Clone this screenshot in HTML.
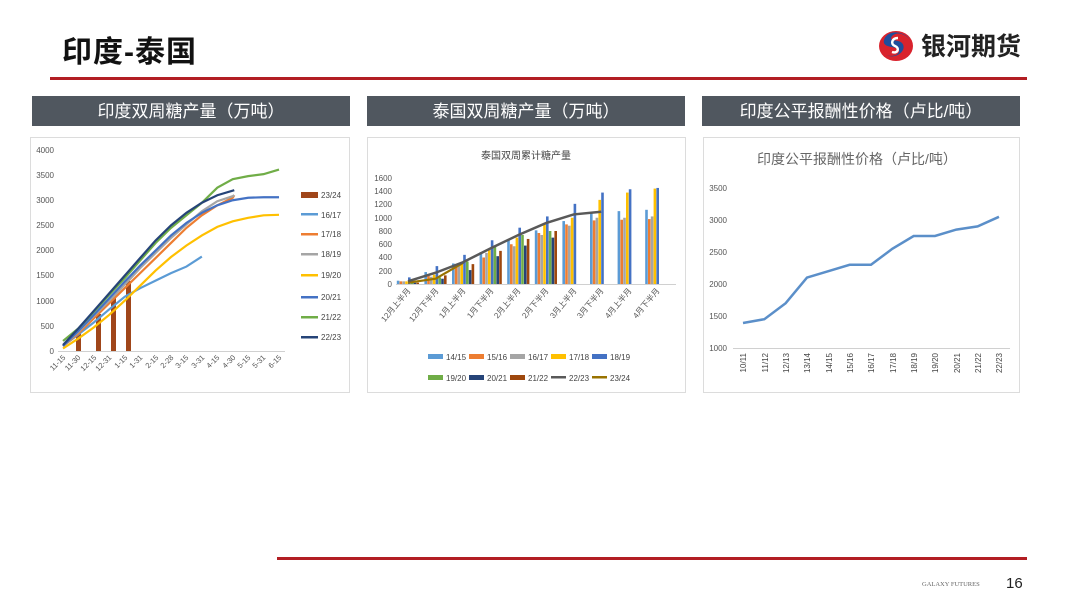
<!DOCTYPE html>
<html><head><meta charset="utf-8"><style>
body{margin:0;background:#fff;}
svg{display:block;font-family:"Liberation Sans","Noto Sans CJK SC",sans-serif;}
</style></head><body>
<svg width="1080" height="608" viewBox="0 0 1080 608">
<text x="62" y="62" font-size="30" font-weight="bold" fill="#111" letter-spacing="1">印度-泰国</text>
<!-- logo -->
<g transform="translate(896,46)">
<ellipse cx="0" cy="0" rx="17" ry="15" fill="#d9232d"/>
<path d="M-10,9 C0,14 12,4 6,-3 C2,-7 -8,-4 -4,-10 C2,-16 12,-10 14,-6 C10,-14 -8,-18 -12,-6 C-14,2 -2,0 2,3 C6,7 -2,12 -10,9Z" fill="#1f4e9c"/>
<path d="M-4,6 C2,8 4,2 -1,0 C-6,-2 -4,-8 2,-8" stroke="#fff" stroke-width="2.5" fill="none"/>
</g>
<text x="921" y="55" font-size="25" font-weight="bold" fill="#222">银河期货</text>
<rect x="50" y="77" width="977" height="3" fill="#b21e23"/>
<!-- header bars -->
<rect x="32" y="96" width="318" height="30" fill="#50575f"/>
<text x="191" y="117" font-size="17" fill="#fff" text-anchor="middle">印度双周糖产量（万吨）</text>
<rect x="367" y="96" width="318" height="30" fill="#50575f"/>
<text x="526" y="117" font-size="17" fill="#fff" text-anchor="middle">泰国双周糖产量（万吨）</text>
<rect x="702" y="96" width="318" height="30" fill="#50575f"/>
<text x="861" y="117" font-size="17" fill="#fff" text-anchor="middle">印度公平报酬性价格（卢比/吨）</text>
<!-- chart boxes -->
<rect x="30.5" y="137.5" width="319" height="255" fill="#fff" stroke="#dcdcdc"/>
<rect x="367.5" y="137.5" width="318" height="255" fill="#fff" stroke="#dcdcdc"/>
<rect x="703.5" y="137.5" width="316" height="255" fill="#fff" stroke="#dcdcdc"/>

<!-- Chart 1 -->
<g font-size="8" fill="#555" text-anchor="end">
<text x="54" y="153">4000</text><text x="54" y="178">3500</text><text x="54" y="203">3000</text><text x="54" y="228">2500</text><text x="54" y="253">2000</text><text x="54" y="278">1500</text><text x="54" y="304">1000</text><text x="54" y="329">500</text><text x="54" y="354">0</text>
</g>
<line x1="58" y1="351.5" x2="285" y2="351.5" stroke="#d0d0d0"/>
<g fill="#a0461a">
<rect x="76" y="332" width="5" height="19"/><rect x="96" y="314" width="5" height="37"/><rect x="111" y="297" width="5" height="54"/><rect x="126" y="281" width="5" height="70"/>
</g>
<g transform="translate(63,351) scale(15.43,-0.05025)" fill="none" stroke-width="2.2">
<polyline vector-effect="non-scaling-stroke" stroke="#5b9bd5" points="0,100 1,330 2,570 3,830 4,1080 5,1250 6,1400 7,1550 8,1680 9,1880"/>
<polyline vector-effect="non-scaling-stroke" stroke="#ffc000" points="0,50 1,250 2,470 3,720 4,1000 5,1300 6,1600 7,1870 8,2100 9,2300 10,2470 11,2580 12,2650 13,2700 14,2710"/>
<polyline vector-effect="non-scaling-stroke" stroke="#ed7d31" points="0,100 1,350 2,650 3,950 4,1250 5,1550 6,1850 7,2150 8,2450 9,2700 10,2900 11,3050 11.1,3100"/>
<polyline vector-effect="non-scaling-stroke" stroke="#a5a5a5" points="0,100 1,380 2,700 3,1000 4,1320 5,1650 6,1950 7,2250 8,2520 9,2780 10,2980 11,3080 11.1,3100"/>
<polyline vector-effect="non-scaling-stroke" stroke="#4472c4" points="0,100 1,400 2,720 3,1050 4,1380 5,1700 6,2000 7,2300 8,2550 9,2750 10,2900 11,3000 12,3050 13,3060 14,3060"/>
<polyline vector-effect="non-scaling-stroke" stroke="#70ad47" points="0,200 1,450 2,780 3,1120 4,1450 5,1800 6,2150 7,2450 8,2700 9,2950 10,3250 11,3420 12,3480 13,3520 14,3610"/>
<polyline vector-effect="non-scaling-stroke" stroke="#264478" points="0,120 1,450 2,800 3,1150 4,1500 5,1850 6,2200 7,2500 8,2750 9,2950 10,3100 11.1,3200"/>
</g>
<g font-size="7.5" fill="#555" text-anchor="end">
<text transform="translate(66,358) rotate(-45)">11-15</text><text transform="translate(81,358) rotate(-45)">11-30</text><text transform="translate(97,358) rotate(-45)">12-15</text><text transform="translate(112,358) rotate(-45)">12-31</text><text transform="translate(128,358) rotate(-45)">1-15</text><text transform="translate(143,358) rotate(-45)">1-31</text><text transform="translate(159,358) rotate(-45)">2-15</text><text transform="translate(174,358) rotate(-45)">2-28</text><text transform="translate(189,358) rotate(-45)">3-15</text><text transform="translate(205,358) rotate(-45)">3-31</text><text transform="translate(220,358) rotate(-45)">4-15</text><text transform="translate(236,358) rotate(-45)">4-30</text><text transform="translate(251,358) rotate(-45)">5-15</text><text transform="translate(266,358) rotate(-45)">5-31</text><text transform="translate(282,358) rotate(-45)">6-15</text>
</g>
<g font-size="8" fill="#444">
<rect x="301" y="192" width="17" height="6" fill="#a0461a"/><text x="321" y="198">23/24</text>
<rect x="301" y="213" width="17" height="2.5" fill="#5b9bd5"/><text x="321" y="218">16/17</text>
<rect x="301" y="233" width="17" height="2.5" fill="#ed7d31"/><text x="321" y="237">17/18</text>
<rect x="301" y="253" width="17" height="2.5" fill="#a5a5a5"/><text x="321" y="257">18/19</text>
<rect x="301" y="274" width="17" height="2.5" fill="#ffc000"/><text x="321" y="278">19/20</text>
<rect x="301" y="296" width="17" height="2.5" fill="#4472c4"/><text x="321" y="300">20/21</text>
<rect x="301" y="316" width="17" height="2.5" fill="#70ad47"/><text x="321" y="320">21/22</text>
<rect x="301" y="336" width="17" height="2.5" fill="#264478"/><text x="321" y="340">22/23</text>
</g>

<!-- Chart 2 -->
<text x="526" y="159" font-size="10" fill="#444" text-anchor="middle">泰国双周累计糖产量</text>
<g font-size="8" fill="#555" text-anchor="end">
<text x="392" y="181">1600</text><text x="392" y="194">1400</text><text x="392" y="207">1200</text><text x="392" y="221">1000</text><text x="392" y="234">800</text><text x="392" y="247">600</text><text x="392" y="260">400</text><text x="392" y="274">200</text><text x="392" y="287">0</text>
</g>
<line x1="396" y1="284.5" x2="676" y2="284.5" stroke="#d0d0d0"/>
<g transform="translate(408,284) scale(1,-0.06625)">
<g fill="#5b9bd5"><rect x="-11.2" width="2.6" height="50"/><rect x="16.4" width="2.6" height="180"/><rect x="44" width="2.6" height="310"/><rect x="71.6" width="2.6" height="480"/><rect x="99.2" width="2.6" height="660"/><rect x="126.8" width="2.6" height="810"/><rect x="154.4" width="2.6" height="950"/><rect x="182" width="2.6" height="1080"/><rect x="209.6" width="2.6" height="1100"/><rect x="237.2" width="2.6" height="1120"/></g>
<g fill="#ed7d31"><rect x="-8.4" width="2.6" height="40"/><rect x="19.2" width="2.6" height="120"/><rect x="46.8" width="2.6" height="280"/><rect x="74.4" width="2.6" height="400"/><rect x="102" width="2.6" height="600"/><rect x="129.6" width="2.6" height="770"/><rect x="157.2" width="2.6" height="900"/><rect x="184.8" width="2.6" height="960"/><rect x="212.4" width="2.6" height="970"/><rect x="240" width="2.6" height="980"/></g>
<g fill="#a5a5a5"><rect x="-5.6" width="2.6" height="40"/><rect x="22" width="2.6" height="110"/><rect x="49.6" width="2.6" height="280"/><rect x="77.2" width="2.6" height="470"/><rect x="104.8" width="2.6" height="570"/><rect x="132.4" width="2.6" height="740"/><rect x="160" width="2.6" height="880"/><rect x="187.6" width="2.6" height="1000"/><rect x="215.2" width="2.6" height="1000"/><rect x="242.8" width="2.6" height="1020"/></g>
<g fill="#ffc000"><rect x="-2.8" width="2.6" height="40"/><rect x="24.8" width="2.6" height="140"/><rect x="52.4" width="2.6" height="300"/><rect x="80" width="2.6" height="520"/><rect x="107.6" width="2.6" height="700"/><rect x="135.2" width="2.6" height="900"/><rect x="162.8" width="2.6" height="1000"/><rect x="190.4" width="2.6" height="1270"/><rect x="218" width="2.6" height="1380"/><rect x="245.6" width="2.6" height="1440"/></g>
<g fill="#4472c4"><rect x="0" width="2.6" height="100"/><rect x="27.6" width="2.6" height="270"/><rect x="55.2" width="2.6" height="440"/><rect x="82.8" width="2.6" height="660"/><rect x="110.4" width="2.6" height="850"/><rect x="138" width="2.6" height="1020"/><rect x="165.6" width="2.6" height="1210"/><rect x="193.2" width="2.6" height="1380"/><rect x="220.8" width="2.6" height="1430"/><rect x="248.4" width="2.6" height="1450"/></g>
<g fill="#70ad47"><rect x="2.8" width="2.6" height="30"/><rect x="30.4" width="2.6" height="100"/><rect x="58" width="2.6" height="340"/><rect x="85.6" width="2.6" height="580"/><rect x="113.2" width="2.6" height="740"/><rect x="140.8" width="2.6" height="800"/></g>
<g fill="#264478"><rect x="5.6" width="2.6" height="20"/><rect x="33.2" width="2.6" height="80"/><rect x="60.8" width="2.6" height="210"/><rect x="88.4" width="2.6" height="420"/><rect x="116" width="2.6" height="580"/><rect x="143.6" width="2.6" height="700"/></g>
<g fill="#9e480e"><rect x="8.4" width="2.6" height="20"/><rect x="36" width="2.6" height="130"/><rect x="63.6" width="2.6" height="300"/><rect x="91.2" width="2.6" height="500"/><rect x="118.8" width="2.6" height="680"/><rect x="146.4" width="2.6" height="800"/></g>
<polyline vector-effect="non-scaling-stroke" fill="none" stroke="#997300" stroke-width="2.2" points="0,20 27.6,80 55.2,320"/>
<polyline vector-effect="non-scaling-stroke" fill="none" stroke="#595959" stroke-width="2.5" points="0,40 27.6,170 55.2,330 82.8,540 110.4,740 138,920 165.6,1050 193.2,1090"/>
</g>
<g font-size="8" fill="#555" text-anchor="end">
<text transform="translate(411,291) rotate(-50)">12月上半月</text><text transform="translate(439,291) rotate(-50)">12月下半月</text><text transform="translate(466,291) rotate(-50)">1月上半月</text><text transform="translate(494,291) rotate(-50)">1月下半月</text><text transform="translate(521,291) rotate(-50)">2月上半月</text><text transform="translate(549,291) rotate(-50)">2月下半月</text><text transform="translate(577,291) rotate(-50)">3月上半月</text><text transform="translate(604,291) rotate(-50)">3月下半月</text><text transform="translate(632,291) rotate(-50)">4月上半月</text><text transform="translate(660,291) rotate(-50)">4月下半月</text>
</g>
<g font-size="8" fill="#444">
<rect x="428" y="354" width="15" height="5" fill="#5b9bd5"/><text x="446" y="360">14/15</text>
<rect x="469" y="354" width="15" height="5" fill="#ed7d31"/><text x="487" y="360">15/16</text>
<rect x="510" y="354" width="15" height="5" fill="#a5a5a5"/><text x="528" y="360">16/17</text>
<rect x="551" y="354" width="15" height="5" fill="#ffc000"/><text x="569" y="360">17/18</text>
<rect x="592" y="354" width="15" height="5" fill="#4472c4"/><text x="610" y="360">18/19</text>
<rect x="428" y="375" width="15" height="5" fill="#70ad47"/><text x="446" y="381">19/20</text>
<rect x="469" y="375" width="15" height="5" fill="#264478"/><text x="487" y="381">20/21</text>
<rect x="510" y="375" width="15" height="5" fill="#9e480e"/><text x="528" y="381">21/22</text>
<rect x="551" y="376" width="15" height="2.5" fill="#595959"/><text x="569" y="381">22/23</text>
<rect x="592" y="376" width="15" height="2.5" fill="#997300"/><text x="610" y="381">23/24</text>
</g>

<!-- Chart 3 -->
<text x="857" y="164" font-size="14" fill="#666" text-anchor="middle">印度公平报酬性价格（卢比/吨）</text>
<g font-size="8" fill="#555" text-anchor="end">
<text x="727" y="191">3500</text><text x="727" y="223">3000</text><text x="727" y="255">2500</text><text x="727" y="287">2000</text><text x="727" y="319">1500</text><text x="727" y="351">1000</text>
</g>
<line x1="733" y1="348.5" x2="1010" y2="348.5" stroke="#d0d0d0"/>
<g transform="translate(743,348) scale(21.33,-0.064)">
<polyline vector-effect="non-scaling-stroke" fill="none" stroke="#5b8fc9" stroke-width="2.5" points="0,390 1,450 2,700 3,1100 4,1200 5,1300 6,1300 7,1550 8,1750 9,1750 10,1850 11,1900 12,2050"/>
</g>
<g font-size="8" fill="#444" text-anchor="end">
<text transform="translate(746,353) rotate(-90)">10/11</text><text transform="translate(768,353) rotate(-90)">11/12</text><text transform="translate(789,353) rotate(-90)">12/13</text><text transform="translate(810,353) rotate(-90)">13/14</text><text transform="translate(832,353) rotate(-90)">14/15</text><text transform="translate(853,353) rotate(-90)">15/16</text><text transform="translate(874,353) rotate(-90)">16/17</text><text transform="translate(896,353) rotate(-90)">17/18</text><text transform="translate(917,353) rotate(-90)">18/19</text><text transform="translate(938,353) rotate(-90)">19/20</text><text transform="translate(960,353) rotate(-90)">20/21</text><text transform="translate(981,353) rotate(-90)">21/22</text><text transform="translate(1002,353) rotate(-90)">22/23</text>
</g>

<rect x="277" y="557" width="750" height="3" fill="#b21e23"/>
<text x="922" y="586" font-size="6.5" fill="#666" font-family="Liberation Serif,serif">GALAXY FUTURES</text>
<text x="1006" y="588" font-size="15" fill="#222">16</text>
</svg>
</body></html>
